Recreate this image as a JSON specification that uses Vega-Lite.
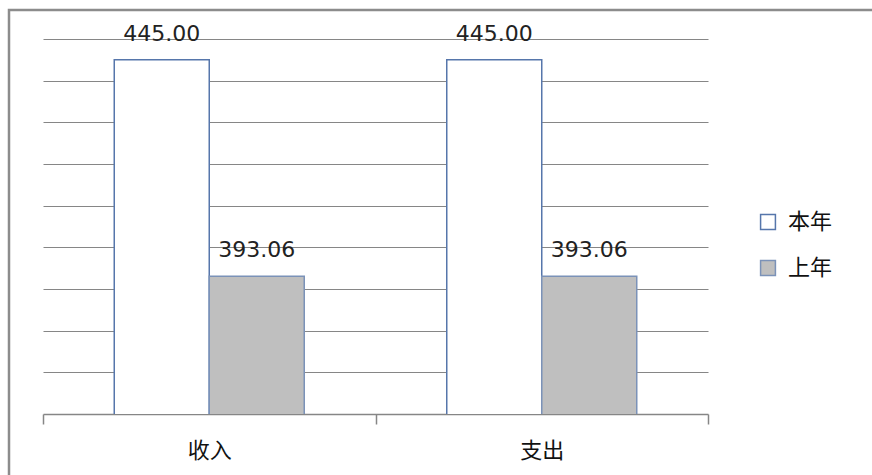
{
  "$schema": "https://vega.github.io/schema/vega-lite/v6.json",
  "autosize": {"type": "none"},
  "padding": {"left": 43, "top": 39, "right": 164, "bottom": 61},
  "width": 665,
  "height": 375,
  "background": "white",
  "config": {"view": {"stroke": null}},
  "datasets": {
    "bars": [
      {"cat": "收入", "series": "本年", "value": 445.00},
      {"cat": "收入", "series": "上年", "value": 393.06},
      {"cat": "支出", "series": "本年", "value": 445.00},
      {"cat": "支出", "series": "上年", "value": 393.06}
    ],
    "frame": [{"a": 0, "b": 1}]
  },
  "layer": [
    {
      "data": {"name": "bars"},
      "encoding": {
        "x": {
          "field": "cat", "type": "nominal", "sort": ["收入", "支出"],
          "scale": {"paddingInner": 0, "paddingOuter": 0},
          "axis": {
            "title": null, "labelAngle": 0, "grid": false,
            "domainColor": "#868686", "domainWidth": 1.5,
            "tickColor": "#868686", "tickWidth": 1.5, "tickSize": 10, "tickBand": "extent",
            "labelFont": "Noto Sans CJK SC", "labelFontSize": 22, "labelColor": "#111",
            "labelPadding": 16
          }
        },
        "xOffset": {
          "field": "series", "type": "nominal", "sort": ["本年", "上年"],
          "scale": {"paddingInner": 0, "paddingOuter": 0.75}
        },
        "y": {
          "field": "value", "type": "quantitative",
          "scale": {"domain": [360, 450], "nice": false, "zero": false},
          "axis": {
            "title": null, "domain": false, "ticks": false, "labels": false,
            "grid": true, "gridColor": "#868686", "gridWidth": 1.2,
            "values": [370, 380, 390, 400, 410, 420, 430, 440, 450]
          }
        }
      },
      "layer": [
        {
          "mark": {"type": "bar", "strokeWidth": 1.5, "clip": true},
          "encoding": {
            "fill": {
              "field": "series", "type": "nominal", "sort": ["本年", "上年"],
              "scale": {"domain": ["本年", "上年"], "range": ["#ffffff", "#bfbfbf"]},
              "legend": {
                "title": null, "orient": "none", "legendX": 714, "legendY": 172,
                "symbolType": "square", "symbolSize": 220, "symbolStrokeWidth": 1.5,
                "labelFont": "Noto Sans CJK SC", "labelFontSize": 22, "labelColor": "#111",
                "labelOffset": 9, "rowPadding": 24
              }
            },
            "stroke": {
              "field": "series", "type": "nominal", "sort": ["本年", "上年"],
              "scale": {"domain": ["本年", "上年"], "range": ["#5676ab", "#7b92b8"]},
              "legend": {
                "title": null, "orient": "none", "legendX": 714, "legendY": 172,
                "symbolType": "square", "symbolSize": 220, "symbolStrokeWidth": 1.5,
                "labelFont": "Noto Sans CJK SC", "labelFontSize": 22, "labelColor": "#111",
                "labelOffset": 9, "rowPadding": 24
              }
            }
          }
        },
        {
          "mark": {"type": "text", "baseline": "alphabetic", "dy": -19, "font": "DejaVu Sans", "fontSize": 22, "color": "#222"},
          "encoding": {
            "text": {"field": "value", "type": "quantitative", "format": ".2f"}
          }
        }
      ]
    },
    {
      "data": {"name": "frame"},
      "mark": {"type": "rect", "filled": false, "stroke": "#8c8c8c", "strokeWidth": 2.5},
      "encoding": {
        "x": {"field": "a", "type": "quantitative", "scale": {"domain": [0, 1], "range": [-34, 900]}, "axis": null},
        "x2": {"field": "b"},
        "y": {"field": "a", "type": "quantitative", "scale": {"domain": [0, 1], "range": [-29, 500]}, "axis": null},
        "y2": {"field": "b"}
      }
    }
  ],
  "resolve": {"scale": {"x": "independent", "y": "independent"}, "axis": {"x": "independent", "y": "independent"}}
}
